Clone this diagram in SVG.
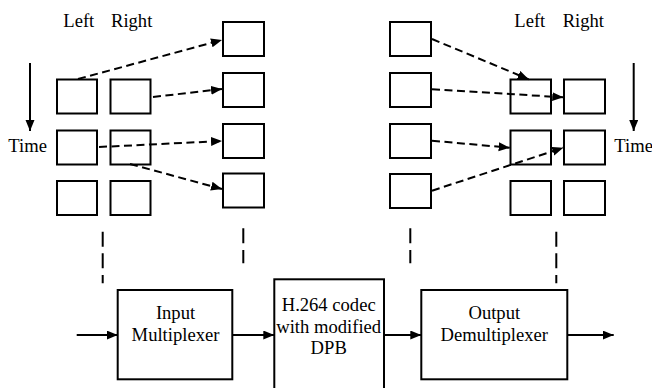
<svg xmlns="http://www.w3.org/2000/svg" width="652" height="388" viewBox="0 0 652 388">
  <style>
    .frame { fill: #fff; stroke: #000; stroke-width: 2; }
    .block { fill: #fff; stroke: #000; stroke-width: 2; }
    .lbl { font-family: "Liberation Serif", "Times New Roman", serif; font-size: 18.6px; fill: #000; }
    .mid { text-anchor: middle; }
    .solid { stroke: #000; stroke-width: 2; fill: none; }
    .dash { stroke: #000; stroke-width: 2; fill: none; stroke-dasharray: 8 4.5; }
    .vdash { stroke: #000; stroke-width: 2; fill: none; stroke-dasharray: 15 6.6; }
  </style>
  <defs>
    <marker id="head" markerUnits="userSpaceOnUse" markerWidth="12" markerHeight="10" refX="11" refY="4.5" orient="auto">
      <path d="M0,0 L11,4.5 L0,9 z" fill="#000"/>
    </marker>
  </defs>

  <rect width="652" height="388" fill="#fff"/>

  <!-- input side: stereo frame pairs -->
  <g id="in-labels">
    <text class="lbl" x="63.3" y="27">Left</text>
    <text class="lbl" x="111" y="27">Right</text>
    <text class="lbl" x="8.3" y="152">Time</text>
  </g>
  <g id="in-L1"><rect class="frame" x="57" y="79.5" width="40" height="34"/></g>
  <g id="in-R1"><rect class="frame" x="110.5" y="79.5" width="40" height="34"/></g>
  <g id="in-L2"><rect class="frame" x="57" y="130.5" width="40" height="34"/></g>
  <g id="in-R2"><rect class="frame" x="110.5" y="130.5" width="40" height="34"/></g>
  <g id="in-L3"><rect class="frame" x="57" y="181" width="40" height="34"/></g>
  <g id="in-R3"><rect class="frame" x="110.5" y="181" width="40" height="34"/></g>

  <!-- multiplexed sequence -->
  <g id="mux-1"><rect class="frame" x="223" y="22" width="41" height="34"/></g>
  <g id="mux-2"><rect class="frame" x="223" y="73" width="41" height="34"/></g>
  <g id="mux-3"><rect class="frame" x="223" y="124" width="41" height="34"/></g>
  <g id="mux-4"><rect class="frame" x="223" y="173.5" width="41" height="34"/></g>

  <!-- decoded sequence -->
  <g id="dec-1"><rect class="frame" x="390" y="22" width="41" height="34"/></g>
  <g id="dec-2"><rect class="frame" x="390" y="73" width="41" height="34"/></g>
  <g id="dec-3"><rect class="frame" x="390" y="124" width="41" height="34"/></g>
  <g id="dec-4"><rect class="frame" x="390" y="174" width="41" height="34"/></g>

  <!-- output side: stereo frame pairs -->
  <g id="out-labels">
    <text class="lbl" x="514.3" y="27">Left</text>
    <text class="lbl" x="562.7" y="27">Right</text>
    <text class="lbl" x="614.3" y="152">Time</text>
  </g>
  <g id="out-L1"><rect class="frame" x="510.5" y="79.5" width="40.5" height="34"/></g>
  <g id="out-R1"><rect class="frame" x="564" y="79.5" width="41" height="34"/></g>
  <g id="out-L2"><rect class="frame" x="510.5" y="130.5" width="40.5" height="34"/></g>
  <g id="out-R2"><rect class="frame" x="564" y="130.5" width="41" height="34"/></g>
  <g id="out-L3"><rect class="frame" x="510.5" y="181" width="40.5" height="34"/></g>
  <g id="out-R3"><rect class="frame" x="564" y="181" width="41" height="34"/></g>

  <!-- processing chain -->
  <g id="input-mux">
    <rect class="block" x="117.7" y="290" width="114.6" height="89.3"/>
    <text class="lbl mid" x="175.5" y="319">Input</text>
    <text class="lbl mid" x="175.5" y="340.7">Multiplexer</text>
  </g>
  <g id="codec">
    <rect class="block" x="274.3" y="279.3" width="109.7" height="115"/>
    <text class="lbl mid" x="328.7" y="310.7">H.264 codec</text>
    <text class="lbl mid" x="328.7" y="332.7">with modified</text>
    <text class="lbl mid" x="328.7" y="354.3">DPB</text>
  </g>
  <g id="output-demux">
    <rect class="block" x="421.3" y="290" width="146" height="89.3"/>
    <text class="lbl mid" x="494.3" y="319">Output</text>
    <text class="lbl mid" x="494.3" y="340.7">Demultiplexer</text>
  </g>

  <g id="connectors">
    <!-- time axes -->
    <line class="solid" x1="30" y1="63" x2="30" y2="131" marker-end="url(#head)"/>
    <line class="solid" x1="633.7" y1="63" x2="633.7" y2="131" marker-end="url(#head)"/>

    <!-- interleaving into one sequence -->
    <line class="dash" x1="78" y1="79" x2="222" y2="40" marker-end="url(#head)"/>
    <line class="dash" x1="153" y1="97" x2="222" y2="89" marker-end="url(#head)"/>
    <line class="dash" x1="99" y1="147" x2="222" y2="141" marker-end="url(#head)"/>
    <line class="dash" x1="130" y1="164" x2="222" y2="189" marker-end="url(#head)"/>

    <!-- splitting back into pairs -->
    <line class="dash" x1="432" y1="39" x2="528.7" y2="79.3" marker-end="url(#head)"/>
    <line class="dash" x1="432" y1="89.3" x2="563.3" y2="97.3" marker-end="url(#head)"/>
    <line class="dash" x1="432" y1="140.7" x2="509.7" y2="147.7" marker-end="url(#head)"/>
    <line class="dash" x1="432" y1="190.7" x2="563.3" y2="147.7" marker-end="url(#head)"/>

    <!-- links between frame views and blocks -->
    <line class="vdash" x1="102.7" y1="231.7" x2="102.7" y2="283.3"/>
    <line class="vdash" x1="243.3" y1="228.3" x2="243.3" y2="263.3"/>
    <line class="vdash" x1="410.3" y1="228.3" x2="410.3" y2="263.3"/>
    <line class="vdash" x1="556.3" y1="231.7" x2="556.3" y2="283.3"/>

    <!-- signal flow -->
    <line class="solid" x1="76.7" y1="335" x2="117.7" y2="335" marker-end="url(#head)"/>
    <line class="solid" x1="232.3" y1="335" x2="274.3" y2="335" marker-end="url(#head)"/>
    <line class="solid" x1="384" y1="335" x2="421.3" y2="335" marker-end="url(#head)"/>
    <line class="solid" x1="567.3" y1="335" x2="613.7" y2="335" marker-end="url(#head)"/>
  </g>
</svg>
